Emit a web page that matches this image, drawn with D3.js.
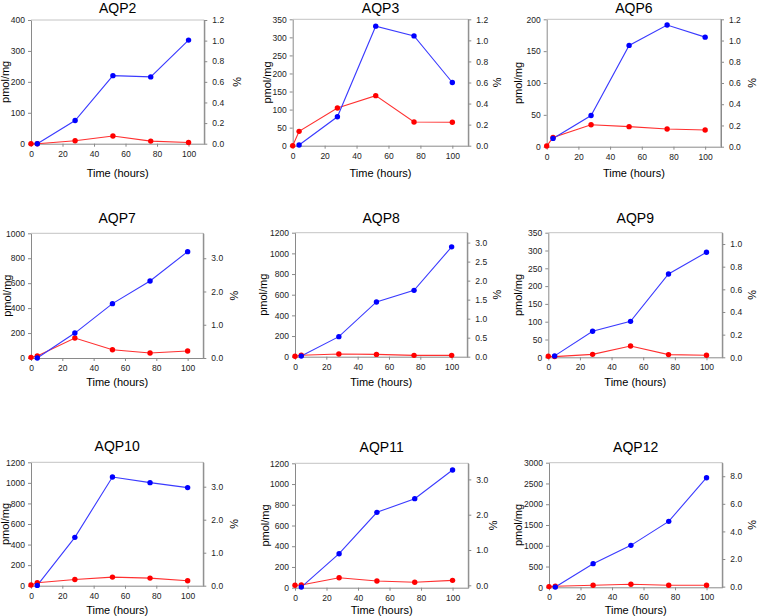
<!DOCTYPE html>
<html>
<head>
<meta charset="utf-8">
<script src="https://cdn.jsdelivr.net/npm/d3@7"></script>
<style>
  html, body { margin: 0; padding: 0; background: #fff; }
  svg { display: block; font-family: "Liberation Sans", Arial, sans-serif; }
</style>
</head>
<body>
<svg id="chart" width="760" height="616"></svg>
<script>
// ---------- data ----------
const hours = [0, 4, 28, 52, 76, 100];
const xTicks = [0, 20, 40, 60, 80, 100];
const titles = ["AQP2", "AQP3", "AQP6", "AQP7", "AQP8", "AQP9", "AQP10", "AQP11", "AQP12"];

// pmol/mg (left axis, blue); no value at 0 h
const pmolAQP2  = [null, 0, 75, 220, 216, 335];
const pmolAQP3  = [null, 2, 80, 331, 304, 175];
const pmolAQP6  = [null, 13, 49, 159, 191, 172];
const pmolAQP7  = [null, 0, 200, 436, 618, 853];
const pmolAQP8  = [null, 6, 194, 530, 642, 1063];
const pmolAQP9  = [null, 4, 73, 101, 234, 295];
const pmolAQP10 = [null, 3, 470, 1057, 1002, 954];
const pmolAQP11 = [null, 6, 328, 727, 859, 1135];
const pmolAQP12 = [null, 5, 569, 1010, 1588, 2638];

// % (right axis, red)
const pctAQP2  = [0, 0, 0.029, 0.075, 0.025, 0.012];
const pctAQP3  = [0, 0.136, 0.358, 0.475, 0.225, 0.222];
const pctAQP6  = [0.006, 0.088, 0.207, 0.189, 0.167, 0.157];
const pctAQP7  = [0.02, 0.06, 0.60, 0.25, 0.15, 0.21];
const pctAQP8  = [0.01, 0.04, 0.07, 0.06, 0.035, 0.035];
const pctAQP9  = [0.009, 0.006, 0.026, 0.10, 0.024, 0.018];
const pctAQP10 = [0.02, 0.09, 0.19, 0.26, 0.23, 0.15];
const pctAQP11 = [0, 0.01, 0.215, 0.12, 0.085, 0.14];
const pctAQP12 = [0, 0.03, 0.10, 0.17, 0.10, 0.10];

// axis ranges and tick labels
const leftMax   = [400, 350, 200, 1000, 1200, 350, 1200, 1200, 3000];
const leftTicks = [
  [0, 100, 200, 300, 400],
  [0, 50, 100, 150, 200, 250, 300, 350],
  [0, 50, 100, 150, 200],
  [0, 200, 400, 600, 800, 1000],
  [0, 200, 400, 600, 800, 1000, 1200],
  [0, 50, 100, 150, 200, 250, 300, 350],
  [0, 200, 400, 600, 800, 1000, 1200],
  [0, 200, 400, 600, 800, 1000, 1200],
  [0, 500, 1000, 1500, 2000, 2500, 3000]
];
const rightMin  = [0, 0, 0, 0, 0, 0, 0, -0.068, -0.05];
const rightMax  = [1.2, 1.2, 1.2, 3.75, 3.26, 1.1, 3.74, 3.456, 8.98];
const rightTicks = [
  [0, 0.2, 0.4, 0.6, 0.8, 1.0, 1.2],
  [0, 0.2, 0.4, 0.6, 0.8, 1.0, 1.2],
  [0, 0.2, 0.4, 0.6, 0.8, 1.0, 1.2],
  [0, 1, 2, 3],
  [0, 0.5, 1.0, 1.5, 2.0, 2.5, 3.0],
  [0, 0.2, 0.4, 0.6, 0.8, 1.0],
  [0, 1, 2, 3],
  [0, 1, 2, 3],
  [0, 2, 4, 6, 8]
];

const pmolSeries = [pmolAQP2, pmolAQP3, pmolAQP6, pmolAQP7, pmolAQP8, pmolAQP9, pmolAQP10, pmolAQP11, pmolAQP12];
const pctSeries  = [pctAQP2, pctAQP3, pctAQP6, pctAQP7, pctAQP8, pctAQP9, pctAQP10, pctAQP11, pctAQP12];

// ---------- layout ----------
// plot box: left, right, top, bottom; title center y; x-label center y; y-label x; % label x
const layout = [
  {l: 31,    r: 204.3, t: 20,    b: 143.7, ty: 7.6,   xy: 173,   yl: 5,     pl: 237},
  {l: 292.7, r: 468.3, t: 19.3,  b: 145.7, ty: 7.6,   xy: 173.3, yl: 266.7, pl: 497},
  {l: 546.7, r: 721,   t: 19.3,  b: 146.7, ty: 7.6,   xy: 172.7, yl: 517.7, pl: 752},
  {l: 31,    r: 203.3, t: 233.3, b: 358,   ty: 217.7, xy: 381.7, yl: 6.7,   pl: 234.3},
  {l: 295,   r: 467.3, t: 232.7, b: 356.7, ty: 218.3, xy: 382.3, yl: 263.3, pl: 496.7},
  {l: 548.3, r: 722.3, t: 232.7, b: 357.3, ty: 217.7, xy: 381.7, yl: 518.3, pl: 752.3},
  {l: 31,    r: 203.3, t: 462.3, b: 585.7, ty: 445.7, xy: 610.2, yl: 5,     pl: 234.3},
  {l: 295,   r: 468.3, t: 463.3, b: 587.7, ty: 446.7, xy: 610.2, yl: 265,   pl: 493.3},
  {l: 549,   r: 722.3, t: 462.7, b: 587.3, ty: 446.7, xy: 610.2, yl: 517.7, pl: 752.3}
];

const svg = d3.select("#chart");
const AXIS = "#8a8a8a";
const BLUE = "#0000ff", BLUE_LINE = "#3a3aff";
const RED = "#ff0000", RED_LINE = "#ff3030";

titles.forEach((title, i) => {
  const L = layout[i];
  const g = svg.append("g");
  const x = d3.scaleLinear().domain([0, 110]).range([L.l, L.r]);
  const yL = d3.scaleLinear().domain([0, leftMax[i]]).range([L.b, L.t]);
  const yR = d3.scaleLinear().domain([rightMin[i], rightMax[i]]).range([L.b, L.t]);

  // top frame line
  g.append("line").attr("x1", L.l).attr("x2", L.r).attr("y1", L.t).attr("y2", L.t)
    .attr("stroke", "#c4c4c4").attr("stroke-width", 1);

  const styleAxis = (sel) => {
    sel.selectAll("path.domain").attr("stroke", AXIS).attr("stroke-width", 1);
    sel.selectAll(".tick line").attr("stroke", AXIS);
    sel.selectAll(".tick text").attr("fill", "#222").attr("font-size", 8.5)
      .attr("font-family", "Liberation Sans, Arial, sans-serif");
  };

  // bottom axis
  g.append("g").attr("transform", `translate(0,${L.b})`)
    .call(d3.axisBottom(x).tickValues(xTicks).tickSize(3).tickSizeOuter(0).tickPadding(4).tickFormat(d3.format("d")))
    .call(styleAxis);

  // left axis
  g.append("g").attr("transform", `translate(${L.l},0)`)
    .call(d3.axisLeft(yL).tickValues(leftTicks[i]).tickSize(3).tickSizeOuter(0).tickPadding(3).tickFormat(d3.format("d")))
    .call(styleAxis);

  // right axis
  g.append("g").attr("transform", `translate(${L.r},0)`)
    .call(d3.axisRight(yR).tickValues(rightTicks[i]).tickSize(3).tickSizeOuter(0).tickPadding(5).tickFormat(d3.format(".1f")))
    .call(styleAxis);
  g.append("line").attr("x1", L.r).attr("x2", L.r).attr("y1", L.t).attr("y2", L.b)
    .attr("stroke", AXIS).attr("stroke-width", 1);

  // title
  g.append("text").attr("x", (L.l + L.r) / 2).attr("y", L.ty).attr("dy", "0.36em")
    .attr("text-anchor", "middle").attr("font-size", 14).attr("fill", "#000").text(title);

  // x label
  g.append("text").attr("x", (L.l + L.r) / 2).attr("y", L.xy).attr("dy", "0.36em")
    .attr("text-anchor", "middle").attr("font-size", 11).attr("fill", "#000").text("Time (hours)");

  // y label left
  g.append("text").attr("transform", `translate(${L.yl},${(L.t + L.b) / 2}) rotate(-90)`)
    .attr("dy", "0.36em").attr("text-anchor", "middle").attr("font-size", 11).attr("fill", "#000").text("pmol/mg");

  // y label right
  g.append("text").attr("transform", `translate(${L.pl},${(L.t + L.b) / 2}) rotate(90)`)
    .attr("dy", "0.36em").attr("text-anchor", "middle").attr("font-size", 11).attr("fill", "#000").text("%");

  // data
  const blue = hours.map((h, k) => ({h, v: pmolSeries[i][k]})).filter(d => d.v !== null);
  const red = hours.map((h, k) => ({h, v: pctSeries[i][k]}));

  const lineB = d3.line().x(d => x(d.h)).y(d => yL(d.v));
  const lineR = d3.line().x(d => x(d.h)).y(d => yR(d.v));

  g.append("path").datum(red).attr("d", lineR).attr("fill", "none")
    .attr("stroke", RED_LINE).attr("stroke-width", 1.1);
  g.append("path").datum(blue).attr("d", lineB).attr("fill", "none")
    .attr("stroke", BLUE_LINE).attr("stroke-width", 1.1);

  g.selectAll("circle.r").data(red).enter().append("circle").attr("class", "r")
    .attr("cx", d => x(d.h)).attr("cy", d => yR(d.v)).attr("r", 2.7).attr("fill", RED);
  g.selectAll("circle.b").data(blue).enter().append("circle").attr("class", "b")
    .attr("cx", d => x(d.h)).attr("cy", d => yL(d.v)).attr("r", 2.7).attr("fill", BLUE);
});
</script>
</body>
</html>
